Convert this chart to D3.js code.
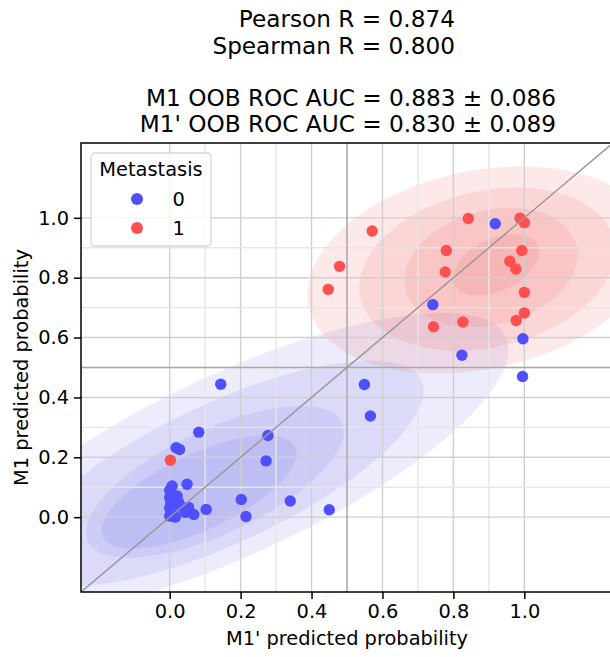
<!DOCTYPE html>
<html>
<head>
<meta charset="UTF-8">
<script src="https://d3js.org/d3.v7.min.js"></script>
<style>
  body { margin: 0; background: #fff; }
  svg { display: block; font-family: "DejaVu Sans", sans-serif; }
</style>
</head>
<body>
<svg width="610" height="657"></svg>
<script>
// title lines, two blocks
const statsLines = ["Pearson R = 0.874", "Spearman R = 0.800"];
const aucLines = ["M1 OOB ROC AUC = 0.883 \u00b1 0.086", "M1' OOB ROC AUC = 0.830 \u00b1 0.089"];

const tickValues = [0, 0.2, 0.4, 0.6, 0.8, 1.0];
const gridValues = [0, 0.1, 0.2, 0.3, 0.4, 0.5, 0.6, 0.7, 0.8, 0.9, 1.0];
const classes = [0, 1];

// x = M1' predicted probability, y = M1 predicted probability
const m1Prime = [
  0.842, 0.988, 1.000, 0.571, 0.780, 0.993, 0.479, 0.959, 0.976, 0.777, 0.447, 1.000, 1.000, 0.977, 0.827, 0.744, 0.002,
  0.918, 0.742, 0.996, 0.824, 0.995, 0.549, 0.566, 0.450, 0.144, 0.082, 0.277, 0.018, 0.028, 0.272, 0.049, 0.202, 0.340,
  0.103, 0.215, 0.068, 0.007, 0.000, 0.021, 0.000, 0.003, 0.030, 0.000, 0.000, 0.016, 0.044, 0.053, 0.010, 0.025
];
const m1 = [
  0.998, 0.999, 0.984, 0.956, 0.891, 0.891, 0.838, 0.855, 0.829, 0.819, 0.761, 0.751, 0.682, 0.657, 0.652, 0.636, 0.190,
  0.980, 0.710, 0.596, 0.541, 0.470, 0.443, 0.338, 0.025, 0.444, 0.284, 0.273, 0.232, 0.226, 0.188, 0.110, 0.059, 0.054,
  0.026, 0.002, 0.009, 0.104, 0.090, 0.071, 0.066, 0.045, 0.038, 0.030, 0.004, 0.000, 0.016, 0.033, 0.020, 0.050
];
const metastasis = [
  1, 1, 1, 1, 1, 1, 1, 1, 1, 1, 1, 1, 1, 1, 1, 1, 1,
  0, 0, 0, 0, 0, 0, 0, 0, 0, 0, 0, 0, 0, 0, 0, 0, 0,
  0, 0, 0, 0, 0, 0, 0, 0, 0, 0, 0, 0, 0, 0, 0, 0
];

// density contour levels (outer -> inner), in data units:
// centre, half major axis vector, half minor axis vector
const kdeClass = [0, 0, 0, 0, 1, 1, 1, 1];
const kdeCx    = [0.181, 0.148, 0.128, 0.083, 0.875, 0.895, 0.906, 0.920];
const kdeCy    = [0.178, 0.146, 0.118, 0.084, 0.826, 0.829, 0.834, 0.843];
const kdeUx    = [0.767, 0.562, 0.358, 0.271, 0.483, 0.357, 0.240, 0.118];
const kdeUy    = [0.424, 0.311, 0.198, 0.150, 0.122, 0.098, 0.076, 0.065];
const kdeVx    = [-0.107, -0.083, -0.062, -0.045, -0.058, -0.050, -0.042, -0.031];
const kdeVy    = [0.273, 0.212, 0.157, 0.115, 0.324, 0.254, 0.184, 0.079];

const dotColor = { 0: "#4f4fff", 1: "#ff4f4f" };
const kdeColor = { 0: "rgb(85,85,225)", 1: "rgb(240,90,90)" };
const kdeOpacity = { 0: 0.11, 1: 0.135 };

const svg = d3.select("svg");
const x = d3.scaleLinear().domain([-0.25, 1.25]).range([81, 613]);
const y = d3.scaleLinear().domain([-0.25, 1.25]).range([592, 143]);

svg.append("clipPath").attr("id", "plot")
  .append("rect").attr("x", 81).attr("y", 143).attr("width", 532).attr("height", 449);

const plot = svg.append("g").attr("clip-path", "url(#plot)");

// density regions
const angles = d3.range(0, 2 * Math.PI, Math.PI / 90);
const ring = d3.line().curve(d3.curveLinearClosed);
plot.append("g").selectAll("path")
  .data(d3.range(kdeClass.length))
  .join("path")
  .attr("d", k => ring(angles.map(t => [
    x(kdeCx[k] + Math.cos(t) * kdeUx[k] + Math.sin(t) * kdeVx[k]),
    y(kdeCy[k] + Math.cos(t) * kdeUy[k] + Math.sin(t) * kdeVy[k])
  ])))
  .attr("fill", k => kdeColor[kdeClass[k]])
  .attr("fill-opacity", k => kdeOpacity[kdeClass[k]]);

// grid
plot.append("g").selectAll("line").data(gridValues).join("line")
  .attr("x1", d => x(d)).attr("x2", d => x(d)).attr("y1", 143).attr("y2", 592)
  .attr("stroke", (d, i) => i % 2 === 0 ? "#cfcfcf" : "#e6e6e6").attr("stroke-width", 1.4);
plot.append("g").selectAll("line").data(gridValues).join("line")
  .attr("y1", d => y(d)).attr("y2", d => y(d)).attr("x1", 81).attr("x2", 613)
  .attr("stroke", (d, i) => i % 2 === 0 ? "#cfcfcf" : "#e6e6e6").attr("stroke-width", 1.4);

// points
plot.append("g").selectAll("circle")
  .data(d3.range(m1Prime.length))
  .join("circle")
  .attr("cx", i => x(m1Prime[i]))
  .attr("cy", i => y(m1[i]))
  .attr("r", 5.7)
  .attr("fill", i => dotColor[metastasis[i]]);

// reference lines
plot.append("line")
  .attr("x1", x(0.5)).attr("x2", x(0.5)).attr("y1", 143).attr("y2", 592)
  .attr("stroke", "#a8a8a8").attr("stroke-width", 1.5);
plot.append("line")
  .attr("y1", y(0.5)).attr("y2", y(0.5)).attr("x1", 81).attr("x2", 613)
  .attr("stroke", "#a8a8a8").attr("stroke-width", 1.5);
plot.append("line")
  .attr("x1", x(-0.25)).attr("y1", y(-0.25)).attr("x2", x(1.25)).attr("y2", y(1.25))
  .attr("stroke", "#999").attr("stroke-width", 1.5);

// axes
const fmt = d3.format(".1f");
const xAxis = svg.append("g").attr("transform", "translate(0,592)")
  .call(d3.axisBottom(x).tickValues(tickValues).tickFormat(fmt).tickSize(7).tickPadding(5));
const yAxis = svg.append("g").attr("transform", "translate(81,0)")
  .call(d3.axisLeft(y).tickValues(tickValues).tickFormat(fmt).tickSize(7).tickPadding(5));
[xAxis, yAxis].forEach(a => {
  a.select(".domain").remove();
  a.selectAll("line").attr("stroke", "#000").attr("stroke-width", 1.5);
  a.selectAll("text").attr("font-size", 19.4).attr("fill", "#000").attr("font-family", "DejaVu Sans");
});

svg.append("rect").attr("x", 81).attr("y", 143).attr("width", 532).attr("height", 449)
  .attr("fill", "none").attr("stroke", "#000").attr("stroke-width", 1.5);

// axis labels
svg.append("text").attr("x", 347).attr("y", 645).attr("text-anchor", "middle")
  .attr("font-size", 19.4).text("M1' predicted probability");
svg.append("text").attr("transform", "translate(28,367.5) rotate(-90)").attr("text-anchor", "middle")
  .attr("font-size", 19.4).text("M1 predicted probability");

// title
svg.append("g").selectAll("text").data(statsLines).join("text")
  .attr("x", 455).attr("y", (d, i) => 27 + i * 26.6).attr("text-anchor", "end")
  .attr("font-size", 23.2).text(d => d);
svg.append("g").selectAll("text").data(aucLines).join("text")
  .attr("x", 556).attr("y", (d, i) => 106 + i * 25.5).attr("text-anchor", "end")
  .attr("font-size", 23.2).text(d => d);

// legend
const legend = svg.append("g");
legend.append("rect").attr("x", 91).attr("y", 153).attr("width", 120).attr("height", 93)
  .attr("rx", 4).attr("fill", "#fff").attr("fill-opacity", 0.8)
  .attr("stroke", "#d6d6d6").attr("stroke-width", 1.3);
legend.append("text").attr("x", 151).attr("y", 176).attr("text-anchor", "middle")
  .attr("font-size", 19.4).text("Metastasis");
const items = legend.selectAll("g.item").data(classes).join("g")
  .attr("transform", (d, i) => `translate(0,${199 + i * 29})`);
items.append("circle").attr("cx", 137).attr("cy", 0).attr("r", 6).attr("fill", d => dotColor[d]);
items.append("text").attr("x", 172.5).attr("y", 7).attr("font-size", 19.4).text(d => d);
</script>
</body>
</html>
